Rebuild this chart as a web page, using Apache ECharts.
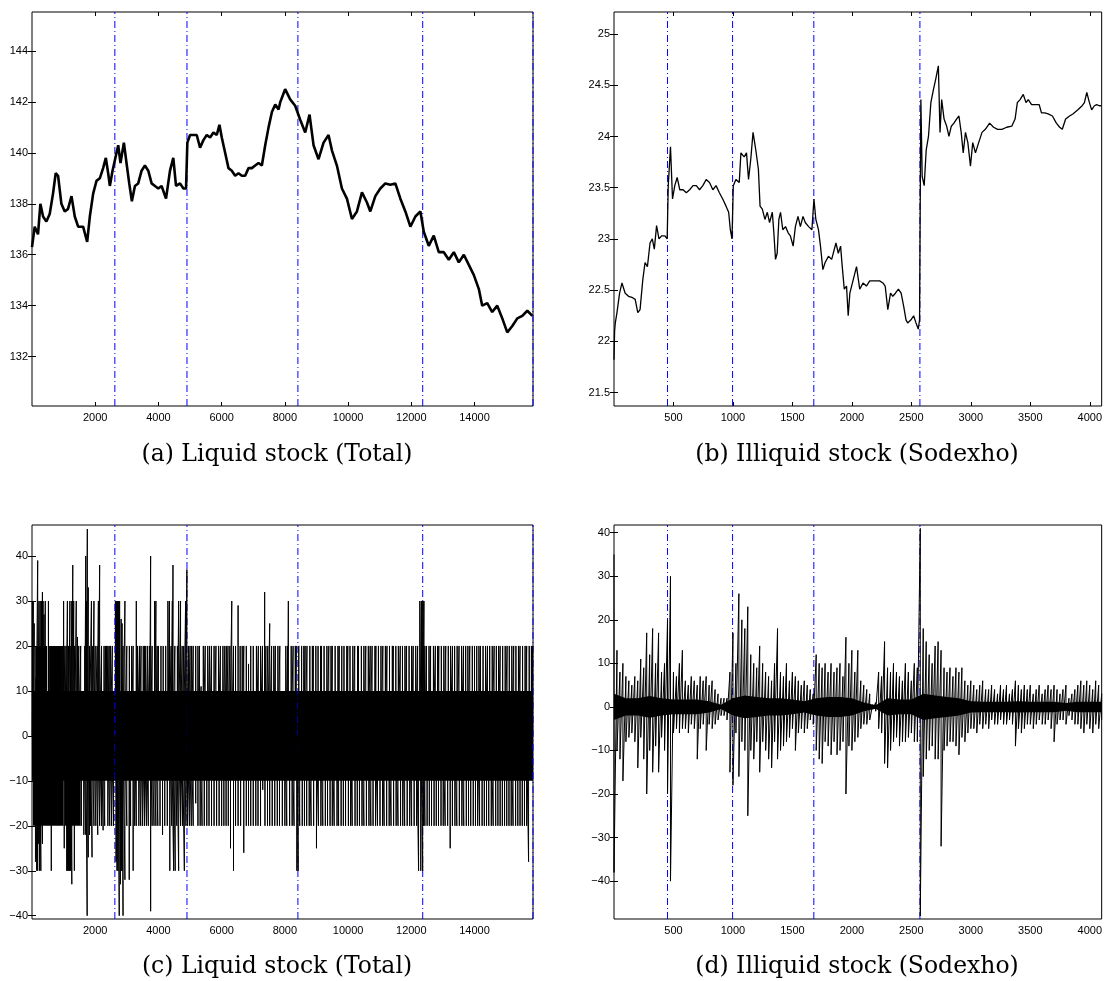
<!DOCTYPE html>
<html>
<head>
<meta charset="utf-8">
<script src="https://cdn.jsdelivr.net/npm/echarts@6/dist/echarts.min.js"></script>
<style>
html, body { margin: 0; padding: 0; background: #fff; }
#chart { width: 1105px; height: 981px; }
</style>
</head>
<body>
<div id="chart"></div>
<script>
// ---------- (a) Total: price path ----------
const aIndex = [0, 85, 190, 265, 350, 455, 560, 665, 750, 825, 930, 1035, 1140, 1250, 1353, 1460, 1617, 1745, 1830, 1935, 2040, 2145, 2250, 2336, 2410, 2463, 2548, 2620, 2727, 2800, 2907, 2990, 3076, 3160, 3256, 3360, 3467, 3572, 3678, 3784, 3890, 3995, 4100, 4240, 4366, 4470, 4556, 4683, 4790, 4873, 4915, 5000, 5106, 5212, 5317, 5423, 5529, 5634, 5740, 5845, 5930, 6004, 6110, 6216, 6321, 6427, 6533, 6638, 6744, 6850, 6955, 7061, 7167, 7272, 7378, 7484, 7590, 7695, 7801, 7851, 8009, 8168, 8326, 8485, 8643, 8780, 8907, 9065, 9224, 9382, 9488, 9646, 9805, 9963, 10122, 10280, 10439, 10597, 10703, 10862, 11020, 11178, 11337, 11495, 11654, 11812, 11971, 12129, 12288, 12394, 12552, 12711, 12869, 13028, 13186, 13345, 13503, 13662, 13820, 13979, 14137, 14243, 14402, 14560, 14719, 14878, 15036, 15195, 15353, 15512, 15670, 15829];
const aPrice = [136.3, 137.1, 136.8, 138.0, 137.5, 137.3, 137.6, 138.4, 139.2, 139.1, 138.0, 137.7, 137.8, 138.3, 137.5, 137.1, 137.1, 136.5, 137.5, 138.4, 138.9, 139.0, 139.4, 139.8, 139.2, 138.7, 139.3, 139.7, 140.3, 139.6, 140.4, 139.6, 138.8, 138.1, 138.7, 138.8, 139.3, 139.5, 139.3, 138.8, 138.7, 138.6, 138.7, 138.2, 139.3, 139.8, 138.7, 138.8, 138.6, 138.6, 140.4, 140.7, 140.7, 140.7, 140.2, 140.5, 140.7, 140.6, 140.8, 140.7, 141.1, 140.6, 140.0, 139.4, 139.3, 139.1, 139.2, 139.1, 139.1, 139.4, 139.4, 139.5, 139.6, 139.5, 140.3, 141.0, 141.6, 141.9, 141.7, 141.98, 142.5, 142.1, 141.85, 141.3, 140.8, 141.5, 140.3, 139.75, 140.4, 140.7, 140.1, 139.5, 138.6, 138.2, 137.4, 137.7, 138.45, 138.05, 137.7, 138.3, 138.6, 138.8, 138.75, 138.8, 138.2, 137.7, 137.1, 137.5, 137.7, 136.9, 136.35, 136.75, 136.1, 136.1, 135.8, 136.1, 135.7, 136.0, 135.6, 135.2, 134.65, 134.0, 134.1, 133.75, 134.0, 133.5, 132.95, 133.2, 133.5, 133.6, 133.8, 133.6];

// ---------- (b) Sodexho: price path ----------
const bIndex = [0, 5, 11, 25, 47, 67, 94, 122, 150, 178, 200, 219, 242, 261, 281, 303, 322, 339, 358, 378, 400, 428, 447, 456, 475, 492, 511, 531, 553, 581, 608, 636, 664, 692, 719, 747, 775, 803, 831, 858, 886, 914, 942, 964, 978, 992, 1003, 1025, 1053, 1067, 1094, 1114, 1131, 1150, 1169, 1192, 1214, 1228, 1247, 1269, 1289, 1308, 1331, 1344, 1358, 1372, 1386, 1400, 1419, 1442, 1464, 1483, 1506, 1525, 1547, 1567, 1589, 1608, 1636, 1664, 1681, 1697, 1719, 1736, 1756, 1775, 1803, 1830, 1866, 1886, 1905, 1919, 1936, 1955, 1969, 1983, 2011, 2039, 2066, 2094, 2122, 2150, 2177, 2205, 2233, 2261, 2280, 2302, 2325, 2344, 2366, 2391, 2414, 2436, 2455, 2469, 2497, 2519, 2539, 2558, 2569, 2575, 2580, 2591, 2608, 2625, 2644, 2664, 2686, 2705, 2727, 2741, 2755, 2775, 2797, 2816, 2836, 2858, 2880, 2900, 2919, 2936, 2955, 2975, 2997, 3016, 3039, 3066, 3094, 3122, 3158, 3191, 3225, 3261, 3302, 3344, 3372, 3391, 3414, 3441, 3464, 3483, 3511, 3539, 3575, 3594, 3622, 3650, 3686, 3719, 3747, 3769, 3797, 3830, 3858, 3900, 3936, 3955, 3975, 3997, 4016, 4039, 4058, 4080, 4094];
const bPrice = [21.82, 22.1, 22.18, 22.28, 22.47, 22.57, 22.47, 22.44, 22.43, 22.41, 22.28, 22.31, 22.6, 22.77, 22.73, 22.96, 23.0, 22.9, 23.13, 23.0, 23.03, 23.03, 23.0, 23.52, 23.9, 23.39, 23.52, 23.6, 23.48, 23.48, 23.45, 23.48, 23.52, 23.52, 23.48, 23.52, 23.58, 23.55, 23.48, 23.52, 23.45, 23.39, 23.32, 23.26, 23.09, 23.0, 23.52, 23.58, 23.55, 23.84, 23.8, 23.84, 23.58, 23.78, 24.04, 23.87, 23.68, 23.32, 23.29, 23.19, 23.26, 23.16, 23.26, 23.06, 22.8, 22.86, 23.19, 23.26, 23.09, 23.12, 23.06, 23.03, 22.93, 23.12, 23.22, 23.12, 23.22, 23.16, 23.12, 23.09, 23.39, 23.19, 23.09, 22.93, 22.7, 22.77, 22.83, 22.8, 22.96, 22.86, 22.93, 22.73, 22.51, 22.54, 22.25, 22.47, 22.6, 22.73, 22.51, 22.57, 22.54, 22.59, 22.59, 22.59, 22.59, 22.57, 22.54, 22.31, 22.47, 22.44, 22.47, 22.51, 22.47, 22.34, 22.21, 22.18, 22.21, 22.25, 22.18, 22.12, 22.21, 23.45, 24.36, 23.61, 23.52, 23.87, 24.0, 24.33, 24.46, 24.56, 24.69, 24.04, 24.36, 24.17, 24.1, 24.0, 24.1, 24.13, 24.17, 24.2, 24.04, 23.84, 24.04, 23.94, 23.71, 23.94, 23.84, 23.94, 24.04, 24.07, 24.13, 24.09, 24.07, 24.07, 24.09, 24.1, 24.17, 24.33, 24.36, 24.41, 24.33, 24.36, 24.31, 24.31, 24.31, 24.23, 24.23, 24.22, 24.2, 24.13, 24.09, 24.07, 24.17, 24.2, 24.22, 24.26, 24.3, 24.33, 24.43, 24.33, 24.26, 24.3, 24.31, 24.3, 24.3];

// ---------- (c) Total: increments ----------
// every column is filled between -10 and 10
const cCoreBand = [-10, 10];
// stretches where excursions are so frequent that they fill solidly: [from, to, level]
const cDenseStretches = [[100, 480, 20], [540, 980, 20], [2620, 2790, 30], [30, 1000, -20], [1040, 1540, -20]];
const cUpIndex = [10, 40, 70, 130, 180, 220, 260, 300, 330, 350, 380, 420, 520, 1000, 1040, 1080, 1120, 1160, 1200, 1230, 1260, 1290, 1320, 1350, 1400, 1440, 1480, 1540, 1670, 1700, 1720, 1750, 1780, 1820, 1880, 1920, 1960, 2000, 2060, 2100, 2140, 2200, 2280, 2330, 2360, 2400, 2440, 2480, 2540, 2820, 2850, 2880, 2940, 3000, 3080, 3150, 3200, 3300, 3340, 3400, 3450, 3520, 3560, 3600, 3660, 3720, 3753, 3800, 3880, 3920, 3960, 4000, 4080, 4150, 4230, 4300, 4350, 4400, 4440, 4460, 4520, 4600, 4640, 4700, 4750, 4800, 4860, 4900, 4950, 5000, 5050, 5100, 5180, 5250, 5300, 5350, 5420, 5480, 5560, 5620, 5680, 5760, 5820, 5900, 5960, 6040, 6100, 6150, 6200, 6260, 6320, 6375, 6440, 6520, 6585, 6650, 6700, 6780, 6850, 6920, 7000, 7100, 7160, 7230, 7290, 7360, 7400, 7460, 7520, 7580, 7650, 7700, 7780, 7840, 8030, 8090, 8110, 8200, 8260, 8330, 8360, 8440, 8530, 8600, 8640, 8700, 8790, 8870, 8900, 8980, 9050, 9130, 9160, 9240, 9330, 9390, 9460, 9500, 9590, 9680, 9720, 9800, 9870, 9960, 9990, 10060, 10150, 10210, 10300, 10330, 10420, 10500, 10560, 10640, 10700, 10760, 10850, 10880, 10960, 11040, 11100, 11180, 11230, 11310, 11400, 11430, 11510, 11590, 11650, 11720, 11800, 11850, 11930, 12010, 12060, 12140, 12200, 12270, 12320, 12340, 12370, 12400, 12430, 12480, 12560, 12610, 12700, 12760, 12830, 12870, 12950, 13030, 13090, 13170, 13240, 13300, 13370, 13450, 13510, 13590, 13650, 13720, 13790, 13850, 13930, 14000, 14070, 14140, 14190, 14270, 14350, 14410, 14480, 14560, 14620, 14690, 14760, 14810, 14890, 14970, 15030, 15100, 15180, 15240, 15310, 15390, 15440, 15520, 15600, 15650, 15730, 15800, 15840];
const cUpValue = [30, 30, 25, 13, 39, 30, 30, 30, 32, 30, 27, 30, 30, 30, 20, 20, 30, 20, 30, 20, 30, 38, 30, 20, 30, 22, 20, 20, 20, 40, 30, 46, 33, 20, 30, 20, 30, 20, 20, 30, 38, 20, 20, 20, 20, 20, 20, 20, 20, 26, 25, 20, 30, 20, 20, 20, 20, 30, 20, 20, 20, 20, 20, 20, 20, 20, 40, 20, 30, 30, 20, 20, 20, 20, 20, 30, 30, 20, 30, 38, 20, 20, 30, 30, 20, 20, 30, 37, 20, 20, 20, 20, 20, 20, 20, 11, 20, 20, 20, 20, 20, 20, 20, 20, 20, 20, 20, 20, 20, 20, 30, 20, 20, 29, 20, 20, 20, 20, 16, 20, 20, 20, 20, 20, 20, 32, 20, 20, 25, 20, 20, 20, 20, 20, 20, 20, 30, 20, 20, 20, 20, 20, 20, 20, 20, 20, 20, 20, 20, 20, 20, 20, 20, 20, 20, 20, 20, 20, 20, 20, 20, 20, 20, 20, 20, 20, 20, 20, 20, 20, 20, 20, 20, 20, 20, 20, 20, 20, 20, 20, 20, 20, 20, 20, 20, 20, 20, 20, 20, 20, 20, 20, 20, 20, 20, 20, 20, 30, 30, 30, 30, 30, 20, 20, 20, 20, 20, 20, 20, 20, 20, 20, 20, 20, 20, 20, 20, 20, 20, 20, 20, 20, 20, 20, 20, 20, 20, 20, 20, 20, 20, 20, 20, 20, 20, 20, 20, 20, 20, 20, 20, 20, 20, 20, 20, 20, 20, 20, 20, 20, 20, 20, 20, 20, 20, 30];
const cDownIndex = [110, 150, 180, 200, 240, 280, 330, 610, 1020, 1100, 1130, 1160, 1190, 1220, 1260, 1340, 1560, 1640, 1700, 1745, 1780, 1820, 1850, 1900, 1960, 2020, 2080, 2140, 2200, 2250, 2300, 2400, 2460, 2520, 2580, 2660, 2690, 2720, 2760, 2800, 2830, 2850, 2880, 2940, 3000, 3076, 3120, 3200, 3250, 3300, 3380, 3440, 3500, 3560, 3620, 3680, 3753, 3800, 3860, 3920, 3980, 4050, 4130, 4200, 4280, 4360, 4420, 4480, 4530, 4580, 4640, 4700, 4760, 4820, 4870, 4920, 4980, 5040, 5100, 5180, 5250, 5320, 5380, 5450, 5530, 5600, 5680, 5760, 5840, 5920, 6000, 6070, 6140, 6210, 6280, 6375, 6440, 6520, 6600, 6700, 6780, 6850, 6920, 7000, 7080, 7150, 7230, 7300, 7370, 7450, 7520, 7600, 7680, 7760, 7830, 7920, 8000, 8060, 8150, 8230, 8290, 8380, 8420, 8470, 8550, 8620, 8690, 8770, 8830, 8910, 9000, 9060, 9140, 9200, 9280, 9350, 9430, 9500, 9560, 9650, 9700, 9780, 9850, 9920, 10010, 10080, 10130, 10220, 10290, 10360, 10440, 10500, 10580, 10660, 10720, 10790, 10870, 10930, 11010, 11090, 11140, 11220, 11300, 11360, 11440, 11520, 11580, 11660, 11730, 11790, 11870, 11950, 12010, 12090, 12170, 12230, 12300, 12360, 12390, 12430, 12500, 12570, 12640, 12720, 12790, 12860, 12940, 13010, 13070, 13150, 13230, 13300, 13380, 13440, 13520, 13600, 13660, 13740, 13810, 13880, 13960, 14030, 14100, 14160, 14240, 14310, 14380, 14450, 14530, 14590, 14670, 14740, 14810, 14880, 14950, 15020, 15090, 15160, 15220, 15300, 15370, 15440, 15510, 15580, 15650, 15710, 15790, 15840];
const cDownValue = [-28, -30, -30, -24, -30, -30, -24, -30, -25, -30, -30, -30, -30, -30, -33, -30, -20, -22, -22, -40, -27, -22, -20, -27, -20, -20, -22, -20, -20, -21, -20, -20, -20, -20, -20, -28, -30, -30, -40, -33, -30, -30, -40, -32, -20, -32, -20, -30, -20, -20, -20, -20, -20, -20, -20, -20, -39, -20, -20, -20, -20, -20, -22, -20, -20, -30, -20, -30, -30, -20, -30, -20, -20, -30, -20, -20, -20, -20, -20, -15, -20, -20, -20, -20, -20, -20, -20, -20, -20, -20, -20, -20, -20, -20, -25, -30, -20, -20, -20, -26, -20, -20, -20, -20, -20, -20, -20, -12, -20, -20, -20, -20, -20, -20, -20, -20, -20, -20, -20, -20, -20, -30, -30, -20, -20, -20, -20, -20, -20, -20, -25, -20, -20, -20, -20, -20, -20, -20, -20, -20, -20, -20, -20, -20, -20, -20, -20, -20, -20, -20, -20, -20, -20, -20, -20, -20, -20, -20, -20, -20, -20, -20, -20, -20, -20, -20, -20, -20, -20, -20, -20, -20, -20, -20, -20, -30, -30, -30, -20, -20, -20, -20, -20, -20, -20, -20, -20, -20, -20, -20, -25, -20, -20, -20, -20, -20, -20, -20, -20, -20, -20, -20, -20, -20, -20, -20, -20, -20, -20, -20, -20, -20, -20, -20, -20, -20, -20, -20, -20, -20, -20, -20, -20, -20, -20, -28];

// ---------- (d) Sodexho: increments ----------
// upper / lower swing within each stretch of 25 observations
const dIndex = [0, 25, 50, 75, 100, 125, 150, 175, 200, 225, 250, 275, 300, 325, 350, 375, 400, 425, 450, 475, 500, 525, 550, 575, 600, 625, 650, 675, 700, 725, 750, 775, 800, 825, 850, 875, 900, 925, 950, 975, 1000, 1025, 1050, 1075, 1100, 1125, 1150, 1175, 1200, 1225, 1250, 1275, 1300, 1325, 1350, 1375, 1400, 1425, 1450, 1475, 1500, 1525, 1550, 1575, 1600, 1625, 1650, 1675, 1700, 1725, 1750, 1775, 1800, 1825, 1850, 1875, 1900, 1925, 1950, 1975, 2000, 2025, 2050, 2075, 2100, 2125, 2150, 2175, 2200, 2225, 2250, 2275, 2300, 2325, 2350, 2375, 2400, 2425, 2450, 2475, 2500, 2525, 2550, 2575, 2600, 2625, 2650, 2675, 2700, 2725, 2750, 2775, 2800, 2825, 2850, 2875, 2900, 2925, 2950, 2975, 3000, 3025, 3050, 3075, 3100, 3125, 3150, 3175, 3200, 3225, 3250, 3275, 3300, 3325, 3350, 3375, 3400, 3425, 3450, 3475, 3500, 3525, 3550, 3575, 3600, 3625, 3650, 3675, 3700, 3725, 3750, 3775, 3800, 3825, 3850, 3875, 3900, 3925, 3950, 3975, 4000, 4025, 4050, 4075, 4100];
const dHigh = [35, 13, 8, 10, 7, 6, 5, 7, 6, 11, 9, 17, 12, 18, 10, 17, 8, 10, 20, 30, 8, 7, 10, 13, 6, 5, 7, 6, 5, 7, 6, 7, 5, 6, 4, 3, 2, 2, 2, 8, 17, 10, 26, 20, 18, 23, 12, 10, 9, 14, 10, 8, 7, 6, 10, 18, 8, 7, 10, 6, 8, 7, 6, 5, 6, 5, 4, 3, 12, 10, 9, 10, 8, 10, 8, 9, 10, 7, 16, 10, 13, 8, 13, 6, 5, 4, 3, 0.5, 1, 8, 7, 15, 9, 8, 10, 8, 7, 6, 10, 8, 6, 10, 9, 41, 18, 15, 12, 10, 14, 15, 13, 9, 8, 9, 7, 9, 8, 9, 6, 5, 6, 5, 4, 5, 6, 4, 4, 5, 4, 3, 5, 4, 5, 3, 4, 6, 5, 4, 5, 4, 5, 3, 4, 5, 3, 4, 5, 4, 5, 4, 3, 4, 5, 2, 3, 4, 5, 6, 5, 6, 5, 4, 6, 5, 3];
const dLow = [-38, -10, -12, -17, -8, -7, -6, -8, -14, -7, -12, -20, -10, -15, -9, -15, -7, -10, -20, -40, -6, -5, -6, -5, -5, -6, -4, -5, -12, -5, -4, -10, -4, -5, -4, -3, -2, -2, -3, -15, -18, -6, -16, -8, -10, -25, -10, -12, -8, -15, -8, -10, -12, -14, -8, -12, -10, -9, -8, -7, -5, -10, -6, -5, -6, -5, -3, -4, -10, -12, -13, -8, -9, -11, -8, -11, -10, -8, -20, -9, -10, -8, -7, -5, -4, -4, -3, -0.5, -1, -5, -6, -13, -14, -10, -8, -7, -9, -8, -8, -7, -6, -8, -8, -48, -16, -12, -10, -9, -12, -12, -32, -10, -9, -8, -8, -9, -11, -7, -8, -6, -5, -5, -6, -4, -5, -4, -5, -3, -4, -4, -3, -4, -4, -3, -4, -9, -5, -6, -5, -4, -4, -5, -4, -3, -4, -4, -3, -5, -8, -4, -3, -3, -4, -2, -3, -4, -4, -5, -6, -4, -5, -6, -4, -5, -3];
// half-width of the solidly inked band around zero, per 100 observations
const dCoreIndex = [0, 100, 200, 300, 400, 500, 600, 700, 800, 900, 1000, 1100, 1200, 1300, 1400, 1500, 1600, 1700, 1800, 1900, 2000, 2100, 2200, 2300, 2400, 2500, 2600, 2700, 2800, 2900, 3000, 3100, 3200, 3300, 3400, 3500, 3600, 3700, 3800, 3900, 4000, 4100];
const dCoreWidth = [3, 2, 2, 2.5, 2, 1.7, 1.7, 1.7, 1.3, 0.5, 2, 2.6, 2.3, 2, 2, 1.7, 1.3, 2, 2.3, 2.3, 2, 1, 0.4, 2, 1.7, 1.7, 3, 2.6, 2.3, 2, 1.3, 1.2, 1.2, 1.2, 1.3, 1.2, 1.2, 1.2, 0.9, 1.2, 1.2, 1.2];

// ---------- axis ticks and event markers ----------
const abXTicks = [2000, 4000, 6000, 8000, 10000, 12000, 14000];
const bdXTicks = [500, 1000, 1500, 2000, 2500, 3000, 3500, 4000];
const aYTicks = [132, 134, 136, 138, 140, 142, 144];
const bYTicks = [21.5, 22, 22.5, 23, 23.5, 24, 24.5, 25];
const cYTicks = [-40, -30, -20, -10, 0, 10, 20, 30, 40];
const dYTicks = [-40, -30, -20, -10, 0, 10, 20, 30, 40];
const totalBreaks = [2621, 4903, 8412, 12361, 15850];
const sodexhoBreaks = [450, 997, 1680, 2572];

const captions = ['(a) Liquid stock (Total)', '(b) Illiquid stock (Sodexho)', '(c) Liquid stock (Total)', '(d) Illiquid stock (Sodexho)'];

// ---------- layout ----------
const TICK_FONT = 'Liberation Sans';
const grids = [
  { left: 32, top: 12, width: 501, height: 394 },
  { left: 614, top: 12, width: 492, height: 394 },
  { left: 32, top: 525, width: 501, height: 394 },
  { left: 614, top: 525, width: 492, height: 394 }
];
const panelRanges = [
  { x: [0, 15850], y: [130.06, 145.53], xt: abXTicks, yt: aYTicks },
  { x: [0, 4100], y: [21.369, 25.215], xt: bdXTicks, yt: bYTicks },
  { x: [0, 15850], y: [-40.73, 46.9], xt: abXTicks, yt: cYTicks },
  { x: [0, 4100], y: [-48.7, 41.77], xt: bdXTicks, yt: dYTicks }
];

function fmt(v) {
  return v < 0 ? '\u2212' + String(-v) : String(v);
}

const xAxes = [], yAxes = [];
panelRanges.forEach((p, gi) => {
  const tick = { inside: true, length: 4, lineStyle: { color: '#000', width: 1 } };
  xAxes.push({
    gridIndex: gi, type: 'value', position: 'bottom', min: p.x[0], max: p.x[1],
    axisLine: { show: false }, splitLine: { show: false },
    axisTick: Object.assign({ customValues: p.xt }, tick),
    axisLabel: { customValues: p.xt, fontSize: 11, color: '#000', fontFamily: TICK_FONT, margin: 6, formatter: fmt }
  });
  xAxes.push({
    gridIndex: gi, type: 'value', position: 'top', min: p.x[0], max: p.x[1],
    axisLine: { show: false }, splitLine: { show: false },
    axisTick: Object.assign({ customValues: p.xt }, tick),
    axisLabel: { show: false }
  });
  yAxes.push({
    gridIndex: gi, type: 'value', position: 'left', min: p.y[0], max: p.y[1],
    axisLine: { show: false }, splitLine: { show: false },
    axisTick: Object.assign({ customValues: p.yt }, tick),
    axisLabel: { customValues: p.yt, fontSize: 11, color: '#000', fontFamily: TICK_FONT, margin: 4, formatter: fmt }
  });
  yAxes.push({
    gridIndex: gi, type: 'value', position: 'right', min: p.y[0], max: p.y[1],
    axisLine: { show: false }, splitLine: { show: false },
    axisTick: Object.assign({ customValues: p.yt }, tick),
    axisLabel: { show: false }
  });
});

function zip(xs, ys) { return xs.map((x, i) => [x, ys[i]]); }

// vertical strokes from the zero line out to each excursion
function strokes(xs, vs) {
  const out = [];
  xs.forEach((x, i) => { out.push([x, 0], [x, vs[i]], [x, 0]); });
  return out;
}
// alternate upper and lower swing within each stretch
function swings(xs, hi, lo) {
  const out = [];
  xs.forEach((x, i) => { out.push([x, hi[i]], [x, lo[i]]); });
  return out;
}

// dash-dot event markers spanning the full height of a panel
function breakLines(gi, values) {
  const y = panelRanges[gi].y;
  const data = [];
  values.forEach(v => { data.push([v, y[0]], [v, y[1]], [v, '-']); });
  return {
    type: 'line', xAxisIndex: gi * 2, yAxisIndex: gi * 2, data: data, z: 1,
    symbol: 'none', showSymbol: false, silent: true, connectNulls: false, clip: false,
    lineStyle: { color: '#0000ff', width: 1, type: [7, 3, 1, 3] }
  };
}

function lineSeries(gi, data, width, extra) {
  return Object.assign({
    type: 'line', xAxisIndex: gi * 2, yAxisIndex: gi * 2, data: data,
    symbol: 'none', showSymbol: false, z: 3,
    lineStyle: { color: '#000', width: width }, silent: true
  }, extra || {});
}

// solid band around zero for (d)
const dCoreSeries = {
  type: 'custom', xAxisIndex: 6, yAxisIndex: 6, z: 2, silent: true,
  data: [0],
  renderItem: function (params, api) {
    const pts = [];
    dCoreIndex.forEach((x, i) => pts.push(api.coord([x, dCoreWidth[i]])));
    for (let i = dCoreIndex.length - 1; i >= 0; i--) pts.push(api.coord([dCoreIndex[i], -dCoreWidth[i]]));
    return { type: 'polygon', shape: { points: pts }, style: { fill: '#000' } };
  }
};

const series = [
  breakLines(0, totalBreaks),
  breakLines(1, sodexhoBreaks),
  breakLines(2, totalBreaks),
  breakLines(3, sodexhoBreaks),
  lineSeries(0, zip(aIndex, aPrice), 2.6),
  lineSeries(1, zip(bIndex, bPrice), 1.3),
  lineSeries(2, strokes(cUpIndex, cUpValue), 1, {
    markArea: {
      silent: true, itemStyle: { color: '#000', opacity: 1 },
      data: [[{ yAxis: cCoreBand[0] }, { yAxis: cCoreBand[1] }]].concat(
        cDenseStretches.map(s => [{ xAxis: s[0], yAxis: 0 }, { xAxis: s[1], yAxis: s[2] }]))
    }
  }),
  lineSeries(2, strokes(cDownIndex, cDownValue), 1),
  dCoreSeries,
  lineSeries(3, swings(dIndex, dHigh, dLow), 1)
];

const captionCenters = [[277, 455], [857, 455], [277, 967], [857, 967]];
const graphic = captions.map((t, i) => ({
  type: 'text', x: captionCenters[i][0], y: captionCenters[i][1], silent: true,
  style: { text: t, align: 'center', verticalAlign: 'middle', fill: '#000',
           fontSize: 23.5, fontFamily: 'DejaVu Serif' }
}));

const chart = echarts.init(document.getElementById('chart'), null, { renderer: 'canvas' });
chart.setOption({
  animation: false,
  backgroundColor: '#fff',
  grid: grids.map(g => Object.assign({ show: true, borderColor: '#000', borderWidth: 1, backgroundColor: 'transparent' }, g)),
  xAxis: xAxes,
  yAxis: yAxes,
  series: series,
  graphic: graphic
});
</script>
</body>
</html>
